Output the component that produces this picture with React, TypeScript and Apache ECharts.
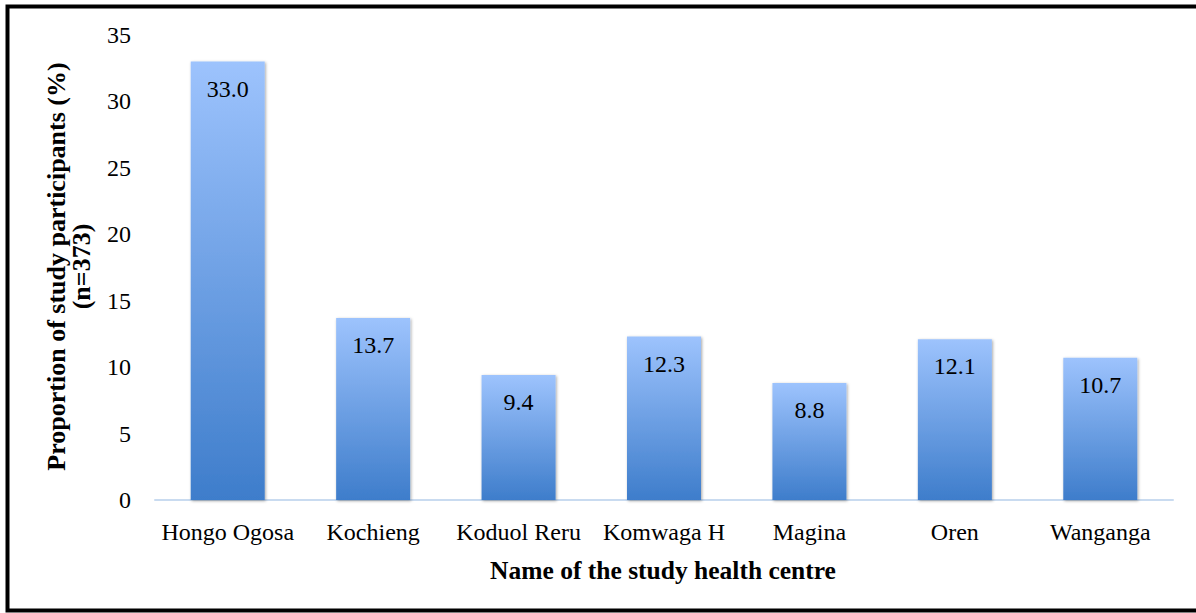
import React, { useEffect, useRef } from "react";
import * as echarts from "echarts";

const categories = ["Hongo Ogosa", "Kochieng", "Koduol Reru", "Komwaga H", "Magina", "Oren", "Wanganga"];
const proportions = [33.0, 13.7, 9.4, 12.3, 8.8, 12.1, 10.7];
const yTicks = { min: 0, max: 35, interval: 5 };
const yTitle = "Proportion of study participants (%)\n(n=373)";
const xTitle = "Name of the study health centre";

const FONT = "'Liberation Serif', serif";

export default function App() {
  const ref = useRef<HTMLDivElement>(null);
  useEffect(() => {
    if (!ref.current) return;
    const chart = echarts.init(ref.current, null, { renderer: "svg" });
    chart.setOption({
      animation: false,
      backgroundColor: "#ffffff",
      grid: { left: 155, right: 23, top: 35, bottom: 113 },
      xAxis: {
        type: "category",
        data: categories,
        axisLine: { show: true, lineStyle: { color: "#C9DBF0", width: 2 } },
        axisTick: { show: false },
        axisLabel: { color: "#000", fontFamily: FONT, fontSize: 24, margin: 20, interval: 0 },
      },
      yAxis: {
        type: "value",
        min: yTicks.min,
        max: yTicks.max,
        interval: yTicks.interval,
        splitLine: { show: false },
        axisLine: { show: false },
        axisTick: { show: false },
        axisLabel: { color: "#000", fontFamily: FONT, fontSize: 24, margin: 24 },
      },
      series: [
        {
          type: "bar",
          data: proportions,
          barWidth: 74,
          itemStyle: {
            color: new echarts.graphic.LinearGradient(0, 0, 0, 1, [
              { offset: 0, color: "#9DC3FD" },
              { offset: 1, color: "#3E7DCB" },
            ]),
            shadowBlur: 3,
            shadowOffsetX: 1,
            shadowOffsetY: 1,
            shadowColor: "rgba(0,0,0,0.35)",
          },
          label: {
            show: true,
            position: "insideTop",
            distance: 15,
            color: "#000",
            fontFamily: FONT,
            fontSize: 24,
            formatter: (p: any) => Number(p.value).toFixed(1),
          },
        },
      ],
      graphic: [
        {
          type: "rect",
          shape: { x: 7.5, y: 6.5, width: 1200, height: 604 },
          style: { fill: "none", stroke: "#000", lineWidth: 4 },
          silent: true,
        },
        {
          type: "text",
          x: 69,
          y: 266.5,
          rotation: Math.PI / 2,
          style: {
            text: yTitle,
            fontFamily: FONT,
            fontWeight: "bold",
            fontSize: 26,
            lineHeight: 25,
            fill: "#000",
            align: "center",
            verticalAlign: "middle",
          },
        },
        {
          type: "text",
          x: 663,
          y: 570,
          style: {
            text: xTitle,
            fontFamily: FONT,
            fontWeight: "bold",
            fontSize: 25.5,
            fill: "#000",
            align: "center",
            verticalAlign: "middle",
          },
        },
      ],
    });
    return () => chart.dispose();
  }, []);
  return (
    <div
      ref={ref}
      style={{ position: "fixed", left: 0, top: 0, width: 1196, height: 613, background: "#fff" }}
    />
  );
}
